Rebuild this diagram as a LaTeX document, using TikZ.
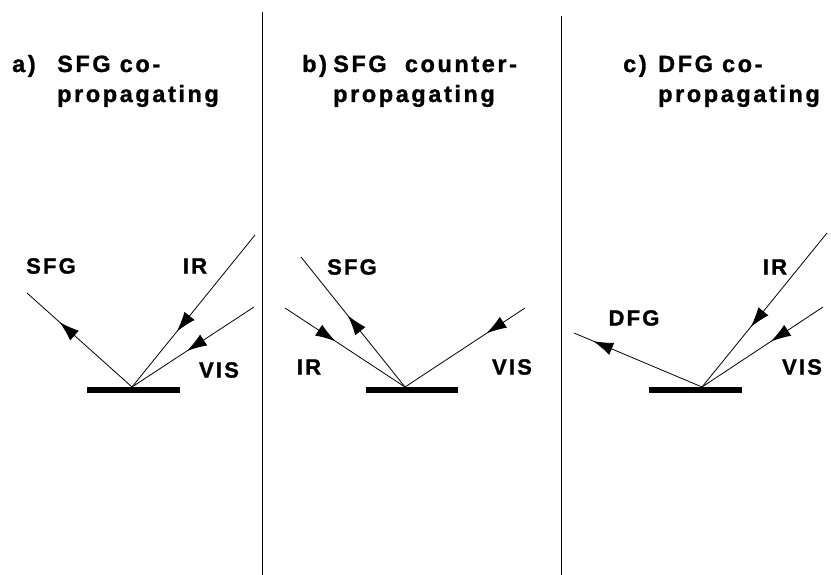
\documentclass[tikz,border=0pt]{standalone}
\usepackage{fontspec}
\setmainfont{Liberation Sans}
\newfontfamily\titlefont[LetterSpace=11,FakeBold=1.2]{Liberation Sans Bold}
\newfontfamily\beamfont[LetterSpace=10,FakeBold=1.3]{Liberation Sans Bold}
\usetikzlibrary{arrows.meta,decorations.markings}

\tikzset{
  divider/.style={line width=1pt},
  surface/.style={fill=black,draw=none},
  ray/.style={line width=0.8pt,postaction={decorate},
    decoration={markings,mark=at position #1 with {\arrow{Latex[length=20pt,width=13pt]}}}},
  title/.style={anchor=base west,inner sep=0pt,font=\titlefont\fontsize{23.5}{28}\selectfont},
  beam/.style={inner sep=0pt,font=\beamfont\fontsize{22}{26}\selectfont},
}

\begin{document}
\begin{tikzpicture}[x=1pt,y=-1pt]
\useasboundingbox (0,0) rectangle (831,575);

% panel dividers
\coordinate (d1t) at (262.5,12);  \coordinate (d1b) at (262.5,575);
\coordinate (d2t) at (561,16);    \coordinate (d2b) at (561,575);
\draw[divider] (d1t) -- (d1b);
\draw[divider] (d2t) -- (d2b);

% titles
\node[title] (ta) at (12,72) {a)};
\node[title] (ta1) at (57,72) {SFG co-};
\node[title] (ta2) at (57,102) {propagating};
\node[title] (tb) at (302,72) {b)};
\node[title] (tb1) at (333,72) {SFG\ \ counter-};
\node[title] (tb2) at (333,102) {propagating};
\node[title] (tc) at (623,72) {c)};
\node[title] (tc1) at (658,72) {DFG co-};
\node[title] (tc2) at (658,102) {propagating};

% ---- a) SFG co-propagating
\fill[surface] (87,387) rectangle (180,393);
\coordinate (ca) at (132,387);
\coordinate (aSFG) at (27,293);
\coordinate (aIR) at (255,235);
\coordinate (aVIS) at (254,307);
\draw[ray=0.69] (ca) -- (aSFG);
\draw[ray=0.635] (aIR) -- (ca);
\draw[ray=0.55] (aVIS) -- (ca);
\node[beam] (laSFG) at (51,266) {SFG};
\node[beam] (laIR) at (195,266) {IR};
\node[beam] (laVIS) at (219,370) {VIS};

% ---- b) SFG counter-propagating
\fill[surface] (366,387) rectangle (458,393);
\coordinate (cb) at (405,387);
\coordinate (bSFG) at (301,257);
\coordinate (bIR) at (285,308);
\coordinate (bVIS) at (525,308);
\draw[ray=0.55] (cb) -- (bSFG);
\draw[ray=0.42] (bIR) -- (cb);
\draw[ray=0.32] (bVIS) -- (cb);
\node[beam] (lbSFG) at (352,267) {SFG};
\node[beam] (lbIR) at (309,367) {IR};
\node[beam] (lbVIS) at (512,367) {VIS};

% ---- c) DFG co-propagating
\fill[surface] (649,387) rectangle (742,393);
\coordinate (cc) at (702,387);
\coordinate (cDFG) at (574,333);
\coordinate (cIR) at (827,233);
\coordinate (cVIS) at (823,307);
\draw[ray=0.85] (cc) -- (cDFG);
\draw[ray=0.61] (cIR) -- (cc);
\draw[ray=0.43] (cVIS) -- (cc);
\node[beam] (lcDFG) at (634,318) {DFG};
\node[beam] (lcIR) at (775,267) {IR};
\node[beam] (lcVIS) at (802,367) {VIS};
\end{tikzpicture}
\end{document}
